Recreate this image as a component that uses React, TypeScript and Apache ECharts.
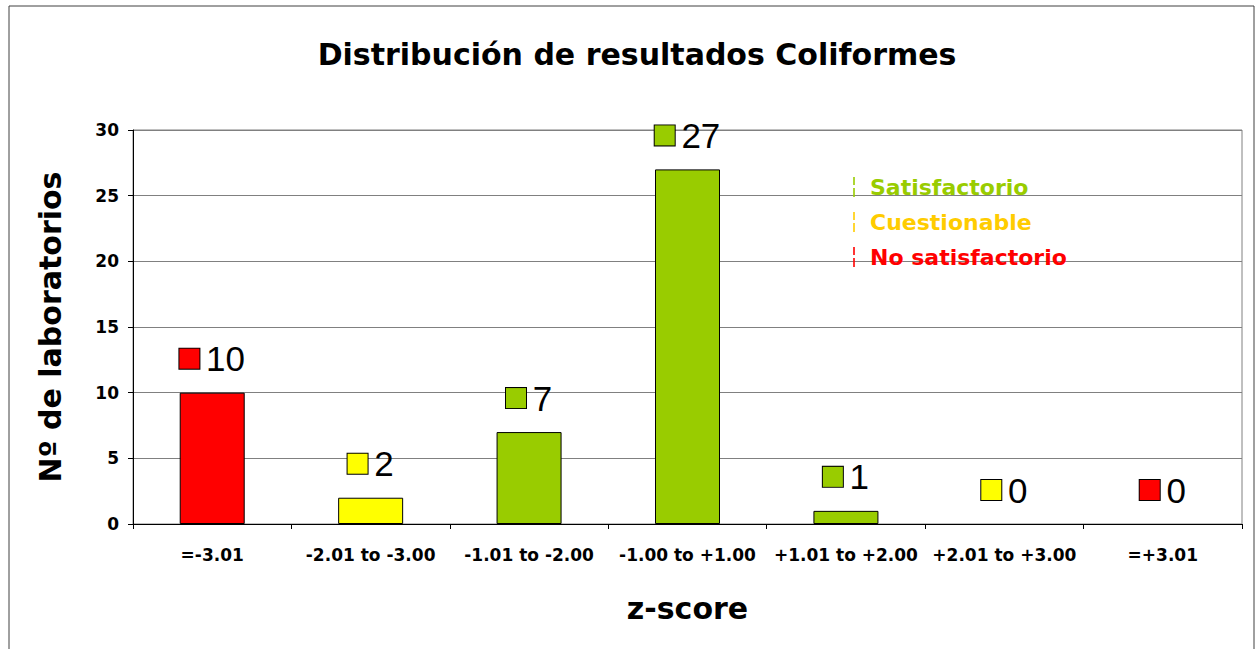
import React, { useEffect, useRef } from "react";
import * as echarts from "echarts";

const categories = ["=-3.01", "-2.01 to -3.00", "-1.01 to -2.00", "-1.00 to +1.00", "+1.01 to +2.00", "+2.01 to +3.00", "=+3.01"];
const counts = [10, 2, 7, 27, 1, 0, 0];
const barColorKeys = ["R", "Y", "G", "G", "G", "Y", "R"];
const yTicks = [0, 5, 10, 15, 20, 25, 30];
const legendNames = ["Satisfactorio", "Cuestionable", "No satisfactorio"];
const legendColors = ["#99CC00", "#FFCC00", "#FF0000"];

const FONT = "Arial, 'Liberation Sans', sans-serif";
const BOLD = "'DejaVu Sans', Arial, sans-serif";
const fill: Record<string, string> = { R: "#FF0000", Y: "#FFFF00", G: "#99CC00" };

export default function App() {
  const ref = useRef<HTMLDivElement>(null);
  useEffect(() => {
    if (!ref.current) return;
    const chart = echarts.init(ref.current, null, { renderer: "svg" });
    const sq = (c: string) => ({ width: 20, height: 20, backgroundColor: c, borderColor: "#000", borderWidth: 1 });
    chart.setOption({
      animation: false,
      backgroundColor: "#fff",
      textStyle: { fontFamily: FONT },
      title: {
        text: "Distribución de resultados Coliformes",
        left: 632, top: 34, textAlign: "center",
        textStyle: { fontFamily: BOLD, fontSize: 30, fontWeight: "bold", color: "#000" },
      },
      graphic: [
        { type: "rect", shape: { x: 9, y: 6, width: 1245, height: 700 }, style: { fill: "none", stroke: "#404040", lineWidth: 1 }, silent: true },
      ],
      legend: {
        orient: "vertical",
        left: 848, top: 171,
        itemWidth: 2, itemHeight: 20, itemGap: 13,
        icon: "path://M0,0h2v8h-2z M0,11h2v9h-2z",
        data: legendNames.map((n, i) => ({
          name: n,
          itemStyle: { color: legendColors[i], borderWidth: 0 },
          textStyle: { color: legendColors[i], fontSize: 22, fontWeight: "bold", fontFamily: BOLD },
        })),
        textStyle: { padding: [0, 0, 0, 10] },
      },
      grid: { left: 133, right: 14, top: 130, bottom: 125, show: true, borderColor: "#808080", borderWidth: 1, backgroundColor: "transparent" },
      xAxis: {
        type: "category",
        data: categories,
        name: "z-score",
        nameLocation: "middle",
        nameGap: 69,
        nameTextStyle: { fontFamily: BOLD, fontSize: 30, fontWeight: "bold", color: "#000" },
        axisLine: { lineStyle: { color: "#000" } },
        axisTick: { show: true, length: 5, lineStyle: { color: "#000" } },
        axisLabel: { fontFamily: BOLD, fontSize: 17, fontWeight: "bold", color: "#000", margin: 22, interval: 0 },
        splitLine: { show: false },
      },
      yAxis: {
        type: "value",
        min: 0, max: 30, interval: 5,
        name: "Nº de laboratorios",
        nameLocation: "middle",
        nameGap: 68,
        nameTextStyle: { fontFamily: BOLD, fontSize: 30, fontWeight: "bold", color: "#000" },
        axisLine: { show: true, lineStyle: { color: "#000" } },
        axisTick: { show: true, length: 5, lineStyle: { color: "#000" } },
        axisLabel: { fontFamily: BOLD, fontSize: 17, fontWeight: "bold", color: "#000", margin: 14,
          formatter: (v: number) => (yTicks.includes(v) ? String(v) : "") },
        splitLine: { lineStyle: { color: "#808080", width: 1 } },
      },
      series: [
        {
          type: "bar",
          barWidth: 65,
          data: counts.map((v, i) => ({
            value: v,
            itemStyle: { color: fill[barColorKeys[i]], borderColor: "#000", borderWidth: v === 0 ? 0 : 1 },
            label: { formatter: `{sq${barColorKeys[i]}|}  {v|${v}}` },
          })),
          label: {
            show: true,
            position: "top",
            distance: 14,
            rich: {
              sqR: sq(fill.R), sqY: sq(fill.Y), sqG: sq(fill.G),
              v: { fontFamily: FONT, fontSize: 35, color: "#000", lineHeight: 40 },
            },
          },
        },
        ...legendNames.map((n, i) => ({ type: "scatter", name: n, data: [], itemStyle: { color: legendColors[i], borderWidth: 0 } })),
      ],
    });
    return () => chart.dispose();
  }, []);
  return <div ref={ref} style={{ position: "absolute", left: 0, top: 0, width: 1256, height: 649 }} />;
}
